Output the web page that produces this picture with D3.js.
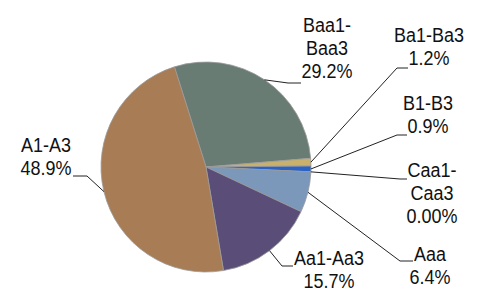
<!DOCTYPE html>
<html>
<head>
<meta charset="utf-8">
<script src="https://cdn.jsdelivr.net/npm/d3@7"></script>
<style>
  body { margin: 0; background: #fff; }
  text { font-family: "Liberation Sans", Arial, sans-serif; font-size: 18px; fill: #111; }
</style>
</head>
<body>
<div class="chart"></div>
<script>
// rating buckets, in drawing order (clockwise)
var categories = ["Baa1-Baa3", "Ba1-Ba3", "B1-B3", "Caa1-Caa3", "Aaa", "Aa1-Aa3", "A1-A3"];
var shares = [29.2, 1.2, 0.9, 0.0, 6.4, 15.7, 48.9];
var shareLabels = ["29.2%", "1.2%", "0.9%", "0.00%", "6.4%", "15.7%", "48.9%"];
var nameLines = [["Baa1-", "Baa3"], ["Ba1-Ba3"], ["B1-B3"], ["Caa1-", "Caa3"], ["Aaa"], ["Aa1-Aa3"], ["A1-A3"]];
var colors = ["#687c74", "#c9b06c", "#2a62c6", "#8a8a8a", "#7b97b9", "#5a4e78", "#a87c55"];

// label placement (layout only)
var labelLayout = {
  "Baa1-Baa3": { tx: 327, ty: 32, ex: 288, ey: 83, jx: 301 },
  "Ba1-Ba3":   { tx: 429, ty: 42, ex: 397, ey: 68, jx: 408 },
  "B1-B3":     { tx: 428, ty: 110, ex: 397, ey: 135, jx: 407 },
  "Caa1-Caa3": { tx: 432, ty: 177, ex: 400, ey: 179, jx: 407 },
  "Aaa":       { tx: 430, ty: 261, ex: 400, ey: 261, jx: 413 },
  "Aa1-Aa3":   { tx: 329, ty: 265, ex: 282, ey: 266, jx: 293 },
  "A1-A3":     { tx: 46, ty: 152, ex: 87, ey: 176, jx: 73 }
};

var width = 478, height = 301;
var cx = 206, cy = 167, radius = 105;
var lineGap = 23;
var stretch = 1.12; // the labels look a bit taller than normal type

var svg = d3.select(".chart")
  .append("svg")
  .attr("width", width)
  .attr("height", height);

var data = categories.map(function(c, i) {
  return { name: c, value: shares[i], label: shareLabels[i], lines: nameLines[i], color: colors[i] };
});

var start = -17.5 * Math.PI / 180;
var pie = d3.pie()
  .sort(null)
  .value(function(d) { return d.value; })
  .startAngle(start)
  .endAngle(start + 2 * Math.PI);

var arc = d3.arc().innerRadius(0).outerRadius(radius);

var pieGroup = svg.append("g")
  .attr("transform", `translate(${cx}, ${cy})`);

var arcs = pie(data);

pieGroup.selectAll("path")
  .data(arcs.filter(function(d) { return d.data.value > 0; }))
  .enter()
  .append("path")
  .attr("d", arc)
  .attr("fill", function(d) { return d.data.color; })
  .attr("stroke", "#9a9a9a")
  .attr("stroke-width", 0.8);

// leader lines: from the rim at mid angle to an elbow, then flat to the text
function rimPoint(d) {
  var a = (d.startAngle + d.endAngle) / 2;
  return [cx + radius * Math.sin(a), cy - radius * Math.cos(a)];
}

var line = d3.line();

svg.selectAll("path.leader")
  .data(arcs)
  .enter()
  .append("path")
  .attr("class", "leader")
  .attr("fill", "none")
  .attr("stroke", "#222")
  .attr("stroke-width", 1)
  .attr("d", function(d) {
    var L = labelLayout[d.data.name];
    return line([rimPoint(d), [L.ex, L.ey], [L.jx, L.ey]]);
  });

// labels
var labels = svg.selectAll("text.lbl")
  .data(arcs)
  .enter()
  .append("text")
  .attr("class", "lbl")
  .attr("text-anchor", "middle")
  .attr("transform", function(d) {
    var L = labelLayout[d.data.name];
    return `translate(${L.tx}, ${L.ty}) scale(1, ${stretch})`;
  });

labels.each(function(d) {
  var t = d3.select(this);
  var rows = d.data.lines.concat([d.data.label]);
  rows.forEach(function(r, i) {
    t.append("tspan")
      .attr("x", 0)
      .attr("y", i * lineGap / stretch)
      .text(r);
  });
});
</script>
</body>
</html>
